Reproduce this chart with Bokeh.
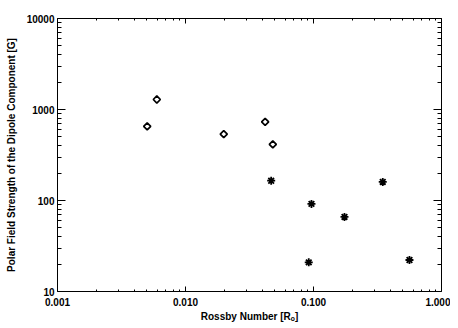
from math import pi
from bokeh.plotting import figure
from bokeh.models import LogAxis, FixedTicker, Range1d, PrintfTickFormatter
from bokeh.embed import file_html
from bokeh.resources import INLINE

# data
diamond_rossby = [0.00502, 0.00597, 0.0199, 0.0419, 0.0481]
diamond_field = [652, 1288, 537, 731, 414]
star_rossby = [0.0467, 0.0964, 0.1746, 0.3475, 0.0918, 0.562]
star_field = [165, 91.8, 66, 160, 20.9, 22.2]

# ticks
x_major = [0.001, 0.01, 0.1, 1.0]
x_minor = [k * d for d in (0.001, 0.01, 0.1) for k in range(2, 10)]
y_major = [10, 100, 1000, 10000]
y_minor = [k * d for d in (10, 100, 1000) for k in range(2, 10)]

FONT = "Liberation Sans"

p = figure(width=450, height=324, x_axis_type="log", y_axis_type="log",
           x_range=Range1d(0.001, 1.0), y_range=Range1d(10, 10000),
           output_backend="svg", toolbar_location=None,
           min_border_left=57, min_border_right=9, min_border_top=18, min_border_bottom=32)
p.grid.visible = False
p.outline_line_color = None
p.background_fill_color = "white"
p.border_fill_color = "white"

xt = FixedTicker(ticks=x_major, minor_ticks=x_minor)
yt = FixedTicker(ticks=y_major, minor_ticks=y_minor)

def style(ax, ticker, tick_in, minor_in, labels=True, fmt=None):
    ax.ticker = ticker
    ax.axis_line_color = "black"
    ax.axis_line_width = 1
    ax.major_tick_in = tick_in
    ax.major_tick_out = 0
    ax.minor_tick_in = minor_in
    ax.minor_tick_out = 0
    ax.major_tick_line_color = "black"
    ax.minor_tick_line_color = "black"
    if labels:
        ax.formatter = PrintfTickFormatter(format=fmt)
        ax.major_label_text_font = FONT
        ax.major_label_text_font_size = "10px"
        ax.major_label_text_font_style = "bold"
        ax.major_label_text_color = "black"
        ax.axis_label_text_font = FONT
        ax.axis_label_text_font_size = "10px"
        ax.axis_label_text_font_style = "bold"
        ax.axis_label_text_color = "black"
    else:
        ax.major_label_text_font_size = "1px"
        ax.major_label_text_color = None
        ax.major_label_standoff = 0

xa = p.xaxis[0]
style(xa, xt, 5, 2, True, "%.3f")
xa.axis_label = "Rossby Number [Rₒ]"
xa.major_label_standoff = 6
xa.axis_label_standoff = 2

ya = p.yaxis[0]
style(ya, yt, 8, 4, True, "%d")
ya.axis_label = "Polar Field Strength of the Dipole Component [G]"
ya.major_label_standoff = 3
ya.axis_label_standoff = 7

top = LogAxis()
style(top, xt, 5, 2, False)
p.add_layout(top, "above")
right = LogAxis()
style(right, yt, 8, 4, False)
p.add_layout(right, "right")

p.scatter(diamond_rossby, diamond_field, marker="square", angle=pi / 4, size=5,
          fill_color=None, line_color="black", line_width=1.7)
p.scatter(star_rossby, star_field, marker="asterisk", size=8,
          line_color="black", line_width=1.8)

open("out.html", "w").write(file_html(p, INLINE))
